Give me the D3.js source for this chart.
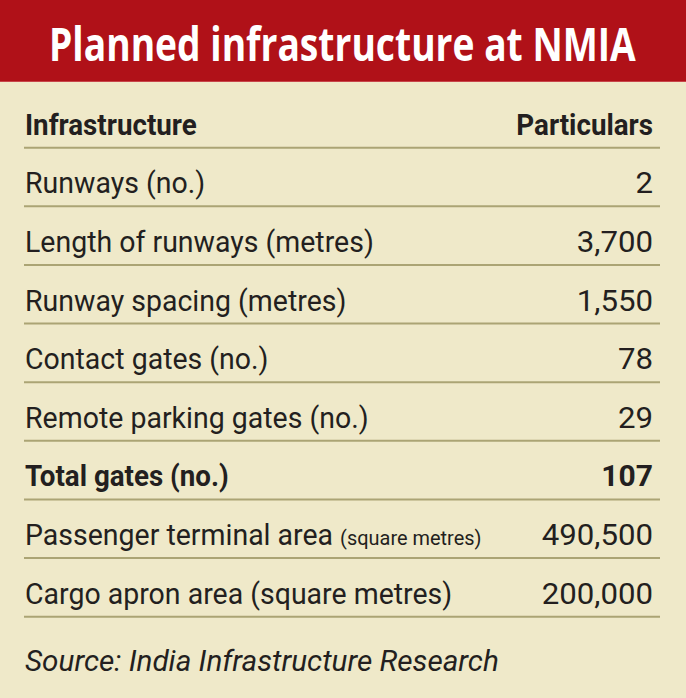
<!DOCTYPE html>
<html>
<head>
<meta charset="utf-8">
<script src="https://cdn.jsdelivr.net/npm/d3@7"></script>
<style>
html,body{margin:0;padding:0;background:#efe9c9;}
svg{display:block;}
</style>
</head>
<body>
<script>
// ---- data ----
const title = "Planned infrastructure at NMIA";
const headers = ["Infrastructure", "Particulars"];
const categories = [
  "Runways (no.)",
  "Length of runways (metres)",
  "Runway spacing (metres)",
  "Contact gates (no.)",
  "Remote parking gates (no.)",
  "Total gates (no.)",
  "Passenger terminal area",
  "Cargo apron area (square metres)"
];
const unitNotes = ["", "", "", "", "", "", "(square metres)", ""];
const values = [2, 3700, 1550, 78, 29, 107, 490500, 200000];
const boldCategories = ["Total gates (no.)"];
const source = "Source: India Infrastructure Research";

// ---- layout ----
const W = 686, H = 698;
const left = 24, right = 660, textRight = 653;
const bodyFont = "Roboto, 'Liberation Sans', sans-serif";
const sx = 0.95;

const svg = d3.select("body").append("svg").attr("width", W).attr("height", H);
svg.append("rect").attr("width", W).attr("height", H).attr("fill", "#efe9c9");

// title band
svg.append("rect").attr("x", 0).attr("y", 0).attr("width", W).attr("height", 82).attr("fill", "#b01118");
svg.append("rect").attr("x", 0).attr("y", 81).attr("width", W).attr("height", 1).attr("fill", "#c8454a");
const titleText = svg.append("text")
  .attr("font-family", "'Liberation Sans Narrow', 'Open Sans', sans-serif")
  .attr("font-weight", 700)
  .attr("font-size", 47)
  .attr("fill", "#ffffff")
  .text(title);
const tLen = titleText.node().getComputedTextLength();
const titleW = 587;
titleText.attr("transform", `translate(49,61) scale(${titleW / tLen},1)`);

// row scale: line positions
const nRows = categories.length;
const y = d3.scaleLinear().domain([0, nRows]).range([147.7, 616.7]);
const baseOff = 13;

function addText(g, x, yy, txt, opts) {
  const s = opts.sx || sx;
  const t = g.append("text")
    .attr("transform", `translate(${x},${yy}) scale(${s},1)`)
    .attr("font-family", bodyFont)
    .attr("font-size", opts.size || 30)
    .attr("font-weight", opts.weight || 400)
    .attr("font-style", opts.style || "normal")
    .attr("text-anchor", opts.anchor || "start")
    .attr("fill", "#231f20")
    .text(txt);
  return t;
}

// header
addText(svg, left + 1, y(0) - baseOff, headers[0], {weight: 700, sx: 0.925});
addText(svg, textRight, y(0) - baseOff, headers[1], {weight: 700, anchor: "end", sx: 0.925});

// lines
svg.selectAll("line.sep")
  .data(d3.range(nRows + 1))
  .join("line")
  .attr("class", "sep")
  .attr("x1", left).attr("x2", right)
  .attr("y1", d => y(d)).attr("y2", d => y(d))
  .attr("stroke", "#aba474")
  .attr("stroke-width", 2);

const fmt = d3.format(",");
categories.forEach((c, i) => {
  const by = y(i + 1) - baseOff;
  const bold = boldCategories.includes(c);
  const t = addText(svg, left + 1, by, c, {weight: bold ? 700 : 400, sx: bold ? 0.925 : sx});
  if (unitNotes[i]) {
    const w = t.node().getComputedTextLength() * sx;
    addText(svg, left + 1 + w + 7, by, unitNotes[i], {size: 21});
  }
  addText(svg, textRight, by, fmt(values[i]), {weight: bold ? 700 : 400, anchor: "end", sx: bold ? 1.0 : 1.04});
});

// source
addText(svg, left + 1, 671, source, {style: "italic", sx: 0.99});
</script>
</body>
</html>
